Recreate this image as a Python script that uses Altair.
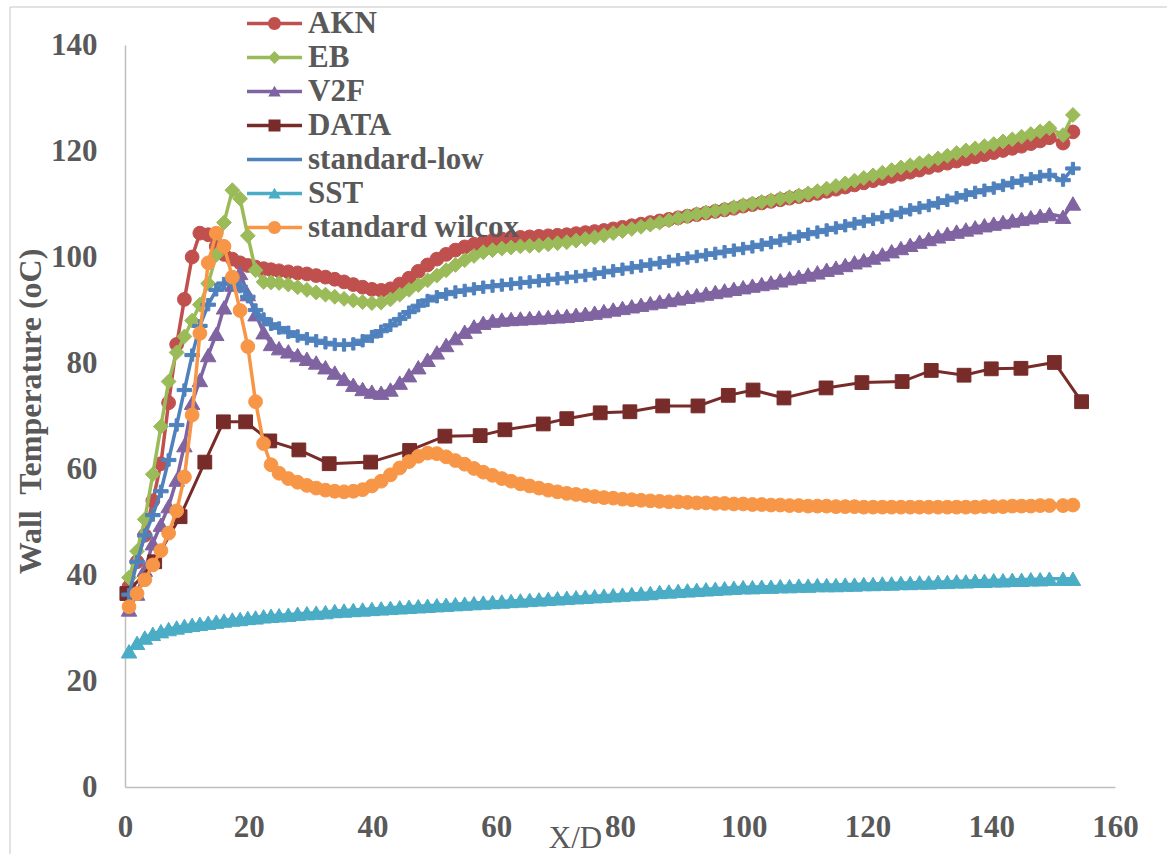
import altair as alt
import pandas as pd

FONT = "Liberation Serif"
GRAY = "#595959"

SERIES = ["AKN", "EB", "V2F", "DATA", "standard-low", "SST", "standard wilcox"]
COLORS = ["#C0504D", "#9BBB59", "#8064A2", "#772C2A", "#4F81BD", "#4BACC6", "#F79646"]

X_CFD = [0.65, 1.95, 3.2, 4.5, 5.8, 7.05, 8.35, 9.6, 10.85, 12.1,
         13.45, 14.75, 16.0, 17.35, 18.6, 19.85, 21.1, 22.4, 23.6, 24.9,
         26.4, 27.9, 29.4, 30.9, 32.4, 33.9, 35.4, 36.9, 38.4, 39.9,
         41.4, 42.9, 44.4, 45.9, 47.4, 48.9, 50.4, 51.9, 53.4, 54.9,
         56.4, 57.9, 59.4, 60.9, 62.4, 63.9, 65.4, 66.9, 68.4, 69.9,
         71.4, 72.9, 74.4, 75.9, 77.4, 78.9, 80.4, 81.9, 83.4, 84.9,
         86.4, 87.9, 89.4, 90.9, 92.4, 93.9, 95.4, 96.9, 98.4, 99.9,
         101.4, 102.9, 104.4, 105.9, 107.4, 108.9, 110.4, 111.9, 113.4, 114.9,
         116.4, 117.9, 119.4, 120.9, 122.4, 123.9, 125.4, 126.9, 128.4, 129.9,
         131.4, 132.9, 134.4, 135.9, 137.4, 138.9, 140.4, 141.9, 143.4, 144.9,
         146.4, 147.9, 149.4, 151.6, 153.2]

AKN = [37.8, 42.5, 47.5, 54.0, 61.0, 72.5, 83.5, 92.0, 100.0, 104.5,
       104.2, 102.0, 100.5, 99.6, 98.9, 98.4, 98.1, 97.8, 97.6, 97.4,
       97.2, 97.0, 96.8, 96.5, 96.2, 95.8, 95.3, 94.8, 94.3, 93.9,
       93.7, 94.0, 94.9, 96.0, 97.3, 98.5, 99.6, 100.5, 101.3, 101.9,
       102.4, 102.8, 103.1, 103.4, 103.6, 103.7, 103.8, 103.9, 104.0, 104.1,
       104.2, 104.4, 104.6, 104.8, 105.0, 105.3, 105.6, 105.9, 106.2, 106.5,
       106.8, 107.1, 107.4, 107.7, 108.0, 108.3, 108.6, 108.9, 109.2, 109.6,
       109.9, 110.2, 110.5, 110.8, 111.1, 111.4, 111.7, 112.0, 112.4, 112.8,
       113.2, 113.6, 114.0, 114.4, 114.8, 115.2, 115.6, 116.0, 116.4, 116.9,
       117.3, 117.7, 118.1, 118.5, 118.9, 119.3, 119.7, 120.1, 120.5, 120.9,
       121.4, 121.9, 122.5, 121.5, 123.6]

EB = [39.5, 44.5, 50.5, 59.0, 68.0, 76.5, 82.0, 85.0, 88.0, 91.0,
      95.0, 100.4, 106.5, 112.6, 111.0, 104.0, 97.5, 95.3, 95.2, 95.1,
      94.8, 94.3, 93.8, 93.3, 92.9, 92.5, 92.1, 91.8, 91.5, 91.3,
      91.4, 92.0, 92.9, 93.8, 94.7, 95.6, 96.5, 97.5, 98.5, 99.4,
      100.2, 100.9, 101.3, 101.6, 101.8, 102.0, 102.1, 102.2, 102.4, 102.6,
      102.8, 103.1, 103.4, 103.7, 104.1, 104.5, 104.9, 105.3, 105.7, 106.1,
      106.5, 106.9, 107.3, 107.7, 108.1, 108.4, 108.7, 109.0, 109.4, 109.8,
      110.1, 110.4, 110.7, 111.0, 111.3, 111.6, 112.0, 112.4, 112.9, 113.4,
      113.9, 114.4, 114.9, 115.4, 115.9, 116.4, 116.9, 117.3, 117.7, 118.1,
      118.6, 119.1, 119.6, 120.1, 120.5, 120.9, 121.3, 121.8, 122.2, 122.7,
      123.2, 123.7, 124.3, 123.0, 126.8]

V2F = [33.5, 36.5, 41.0, 46.0, 49.5, 53.0, 58.0, 64.5, 72.5, 76.8,
       81.5, 85.5, 90.5, 94.8, 97.0, 93.0, 89.2, 85.8, 83.6, 82.8,
       82.2, 81.5, 80.8, 80.1, 79.2, 78.2, 77.0, 75.9, 75.1, 74.6,
       74.4, 75.0, 76.3, 77.7, 79.2, 80.6, 82.0, 83.4, 84.7, 85.9,
       86.9, 87.6, 88.0, 88.2, 88.3, 88.4, 88.5, 88.6, 88.7, 88.8,
       88.9, 89.1, 89.3, 89.5, 89.8, 90.1, 90.4, 90.7, 91.0, 91.3,
       91.6, 91.9, 92.2, 92.5, 92.8, 93.1, 93.4, 93.7, 94.0, 94.3,
       94.6, 94.9, 95.2, 95.6, 96.0, 96.3, 96.7, 97.1, 97.6, 98.0,
       98.5, 99.0, 99.4, 99.9, 100.5, 101.1, 101.7, 102.3, 102.9, 103.4,
       103.9, 104.4, 104.8, 105.2, 105.6, 106.0, 106.3, 106.6, 106.9, 107.2,
       107.5, 107.8, 108.1, 107.6, 110.1]

STD_LOW = [36.3, 42.5, 47.5, 51.3, 55.8, 61.7, 68.3, 74.9, 81.5, 87.0,
           91.0, 93.8, 95.0, 95.0, 94.4, 92.5, 90.0, 88.3, 87.3, 86.6,
           85.8, 85.1, 84.6, 84.2, 83.8, 83.5, 83.4, 83.6, 84.2, 85.0,
           86.0, 87.1, 88.3, 89.6, 90.8, 91.8, 92.5, 93.0, 93.4, 93.7,
           94.0, 94.3, 94.5, 94.7, 94.9, 95.1, 95.3, 95.5, 95.7, 95.9,
           96.1, 96.3, 96.5, 96.8, 97.1, 97.4, 97.7, 98.0, 98.3, 98.6,
           98.9, 99.2, 99.5, 99.8, 100.1, 100.4, 100.7, 101.0, 101.3, 101.6,
           101.9, 102.3, 102.7, 103.1, 103.5, 103.9, 104.3, 104.7, 105.1, 105.5,
           105.9, 106.3, 106.7, 107.1, 107.5, 107.9, 108.4, 108.9, 109.3, 109.7,
           110.2, 110.7, 111.2, 111.7, 112.2, 112.6, 113.0, 113.5, 114.0, 114.4,
           114.8, 115.2, 115.5, 114.5, 116.7]

SST = [25.6, 27.2, 28.2, 28.9, 29.4, 29.8, 30.1, 30.4, 30.6, 30.8,
       31.0, 31.2, 31.4, 31.6, 31.7, 31.9, 32.0, 32.2, 32.3, 32.4,
       32.5, 32.7, 32.8, 32.9, 33.0, 33.2, 33.3, 33.4, 33.5, 33.6,
       33.7, 33.8, 33.9, 34.0, 34.1, 34.2, 34.3, 34.4, 34.5, 34.6,
       34.7, 34.8, 34.9, 35.0, 35.1, 35.2, 35.3, 35.4, 35.5, 35.6,
       35.7, 35.8, 35.9, 36.0, 36.1, 36.2, 36.3, 36.4, 36.5, 36.6,
       36.8, 36.9, 37.0, 37.1, 37.2, 37.3, 37.4, 37.5, 37.6, 37.7,
       37.7, 37.8, 37.8, 37.9, 37.9, 38.0, 38.0, 38.1, 38.1, 38.1,
       38.2, 38.2, 38.3, 38.3, 38.4, 38.4, 38.5, 38.5, 38.6, 38.6,
       38.7, 38.7, 38.8, 38.8, 38.9, 38.9, 39.0, 39.0, 39.1, 39.1,
       39.2, 39.2, 39.3, 39.3, 39.3]

WILCOX = [34.0, 36.5, 39.1, 41.9, 44.6, 47.9, 52.1, 58.5, 70.2, 85.6,
          98.9, 104.5, 102.0, 96.2, 89.9, 83.1, 72.7, 64.8, 60.8, 59.2,
          58.2, 57.5, 56.9, 56.4, 56.0, 55.8, 55.7, 55.8, 56.1, 56.8,
          57.7, 58.9, 60.2, 61.4, 62.4, 63.0, 62.9, 62.3, 61.6, 60.9,
          60.1, 59.4, 58.8, 58.2, 57.7, 57.2, 56.8, 56.4, 56.0, 55.7,
          55.4, 55.2, 55.0, 54.8, 54.6, 54.5, 54.3, 54.2, 54.1, 54.0,
          53.9, 53.8, 53.8, 53.7, 53.6, 53.6, 53.5, 53.5, 53.4, 53.4,
          53.3, 53.3, 53.2, 53.2, 53.1, 53.1, 53.0, 53.0, 53.0, 52.9,
          52.9, 52.9, 52.8, 52.8, 52.8, 52.8, 52.8, 52.8, 52.8, 52.8,
          52.8, 52.8, 52.8, 52.8, 52.8, 52.9, 52.9, 52.9, 53.0, 53.0,
          53.0, 53.1, 53.1, 53.1, 53.2]

DATA_X = [0.3, 4.8, 8.9, 12.9, 15.9, 19.5, 23.4, 28.1, 33.0, 39.7,
          46.0, 51.7, 57.4, 61.4, 67.6, 71.4, 76.8, 81.6, 86.9, 92.6,
          97.5, 101.5, 106.5, 113.3, 119.1, 125.6, 130.3, 135.6, 140.0, 144.8,
          150.2, 154.6]
DATA_Y = [36.5, 42.5, 51.0, 61.3, 68.9, 68.9, 65.3, 63.6, 61.0, 61.3,
          63.5, 66.2, 66.3, 67.4, 68.5, 69.5, 70.6, 70.8, 71.9, 71.9,
          73.9, 74.9, 73.4, 75.3, 76.3, 76.5, 78.6, 77.7, 78.9, 79.0,
          80.1, 72.7]

X_TICKS = [0, 20, 40, 60, 80, 100, 120, 140, 160]
Y_TICKS = [0, 20, 40, 60, 80, 100, 120, 140]

# marker shapes for the plotted points
PLUS = "M-1,-0.22H1V0.22H-1Z M-0.22,-0.85H0.22V0.85H-0.22Z"
MARKERS = ["circle", "diamond", "triangle-up", "square", PLUS, "triangle-up", "circle"]
MSIZES = [190, 220, 240, 190, 210, 240, 190]

# legend symbols: line segment + marker
LINE = "M-5.5,-0.35H5.5V0.35H-5.5Z"
CIRC = "M1.3,0A1.3,1.3 0 1,1 -1.3,0A1.3,1.3 0 1,1 1.3,0Z"
DIAM = "M-1.3,0L0,-1.3L1.3,0L0,1.3Z"
TRI = "M0,-1.15L1.25,1.0L-1.25,1.0Z"
SQR = "M-1.2,-1.2H1.2V1.2H-1.2Z"
LEG_SHAPES = [LINE + " " + CIRC, LINE + " " + DIAM, LINE + " " + TRI, LINE + " " + SQR,
              LINE, LINE + " " + TRI, LINE + " " + CIRC]

cfd = {"AKN": AKN, "EB": EB, "V2F": V2F, "standard-low": STD_LOW,
       "SST": SST, "standard wilcox": WILCOX}
rows = []
for name in SERIES:
    if name == "DATA":
        xs, ys = DATA_X, DATA_Y
    else:
        xs, ys = X_CFD, cfd[name]
    assert len(xs) == len(ys), name
    for i, (xv, yv) in enumerate(zip(xs, ys)):
        rows.append({"series": name, "x": xv, "y": yv, "i": i})
df = pd.DataFrame(rows)

xscale = alt.Scale(domain=[0, 160], nice=False)
yscale = alt.Scale(domain=[0, 140], nice=False)

xaxis = alt.Axis(values=X_TICKS, grid=False, ticks=False, labelFont=FONT, labelFontSize=31,
                 labelFontWeight="bold", labelColor=GRAY, labelPadding=25, labelFlush=False,
                 labelOverlap=False, domainColor="#BFBFBF", domainWidth=1.5,
                 title="X/D", titleFont=FONT, titleFontSize=31, titleFontWeight="normal",
                 titleColor=GRAY, titleX=450, titleY=60, titleBaseline="alphabetic",
                 titleAlign="center")
yaxis = alt.Axis(values=Y_TICKS, grid=False, ticks=False, labelFont=FONT, labelFontSize=31,
                 labelFontWeight="bold", labelColor=GRAY, labelPadding=28,
                 labelOverlap=False, domainColor="#BFBFBF", domainWidth=1.5,
                 title="Wall\u00a0 Temperature (oC)", titleFont=FONT, titleFontSize=32,
                 titleFontWeight="bold", titleColor=GRAY, titleX=-95, titleY=366,
                 titleAngle=270, titleBaseline="middle", titleAlign="center")

X = alt.X("x:Q", scale=xscale, axis=xaxis)
Y = alt.Y("y:Q", scale=yscale, axis=yaxis)

base = alt.Chart(df)
layers = []
for k, name in enumerate(SERIES):
    sub = base.transform_filter(alt.datum.series == name)
    sw = 3 if name == "DATA" else 3.5
    layers.append(sub.mark_line(color=COLORS[k], strokeWidth=sw).encode(x=X, y=Y, order="i:Q"))
    layers.append(sub.mark_point(shape=MARKERS[k], filled=True, size=MSIZES[k],
                                 color=COLORS[k], stroke=COLORS[k], strokeWidth=1,
                                 opacity=1).encode(x=X, y=Y))

leg = alt.Legend(title=None, orient="none", legendX=134, legendY=-37, direction="vertical",
                 labelFont=FONT, labelFontSize=31, labelFontWeight="bold", labelColor=GRAY,
                 symbolSize=100, symbolStrokeWidth=0, labelOffset=18, rowPadding=2,
                 padding=0, labelLimit=500, symbolOpacity=1)
legend_layer = base.transform_filter("datum.x > 99999").mark_point(filled=True, opacity=1).encode(
    x=X, y=Y,
    color=alt.Color("series:N", scale=alt.Scale(domain=SERIES, range=COLORS), legend=leg),
    shape=alt.Shape("series:N", scale=alt.Scale(domain=SERIES, range=LEG_SHAPES), legend=leg),
)

frame = alt.Data(values=[{"a": 1}])
frame_left = alt.Chart(frame).mark_rule(color="#D9D9D9", strokeWidth=1.5).encode(
    x=alt.value(-115), y=alt.value(-38), y2=alt.value(809))
frame_top = alt.Chart(frame).mark_rule(color="#D9D9D9", strokeWidth=1.5).encode(
    x=alt.value(-115), x2=alt.value(1042), y=alt.value(-38))

chart = alt.layer(*layers, legend_layer, frame_left, frame_top).properties(
    width=990, height=742,
    background="white",
    autosize=alt.AutoSizeParams(type="none"),
    padding={"left": 125, "top": 45, "right": 52, "bottom": 67},
).configure_view(stroke=None)

chart.save("out.html", embed_options={"renderer": "svg", "actions": False})
